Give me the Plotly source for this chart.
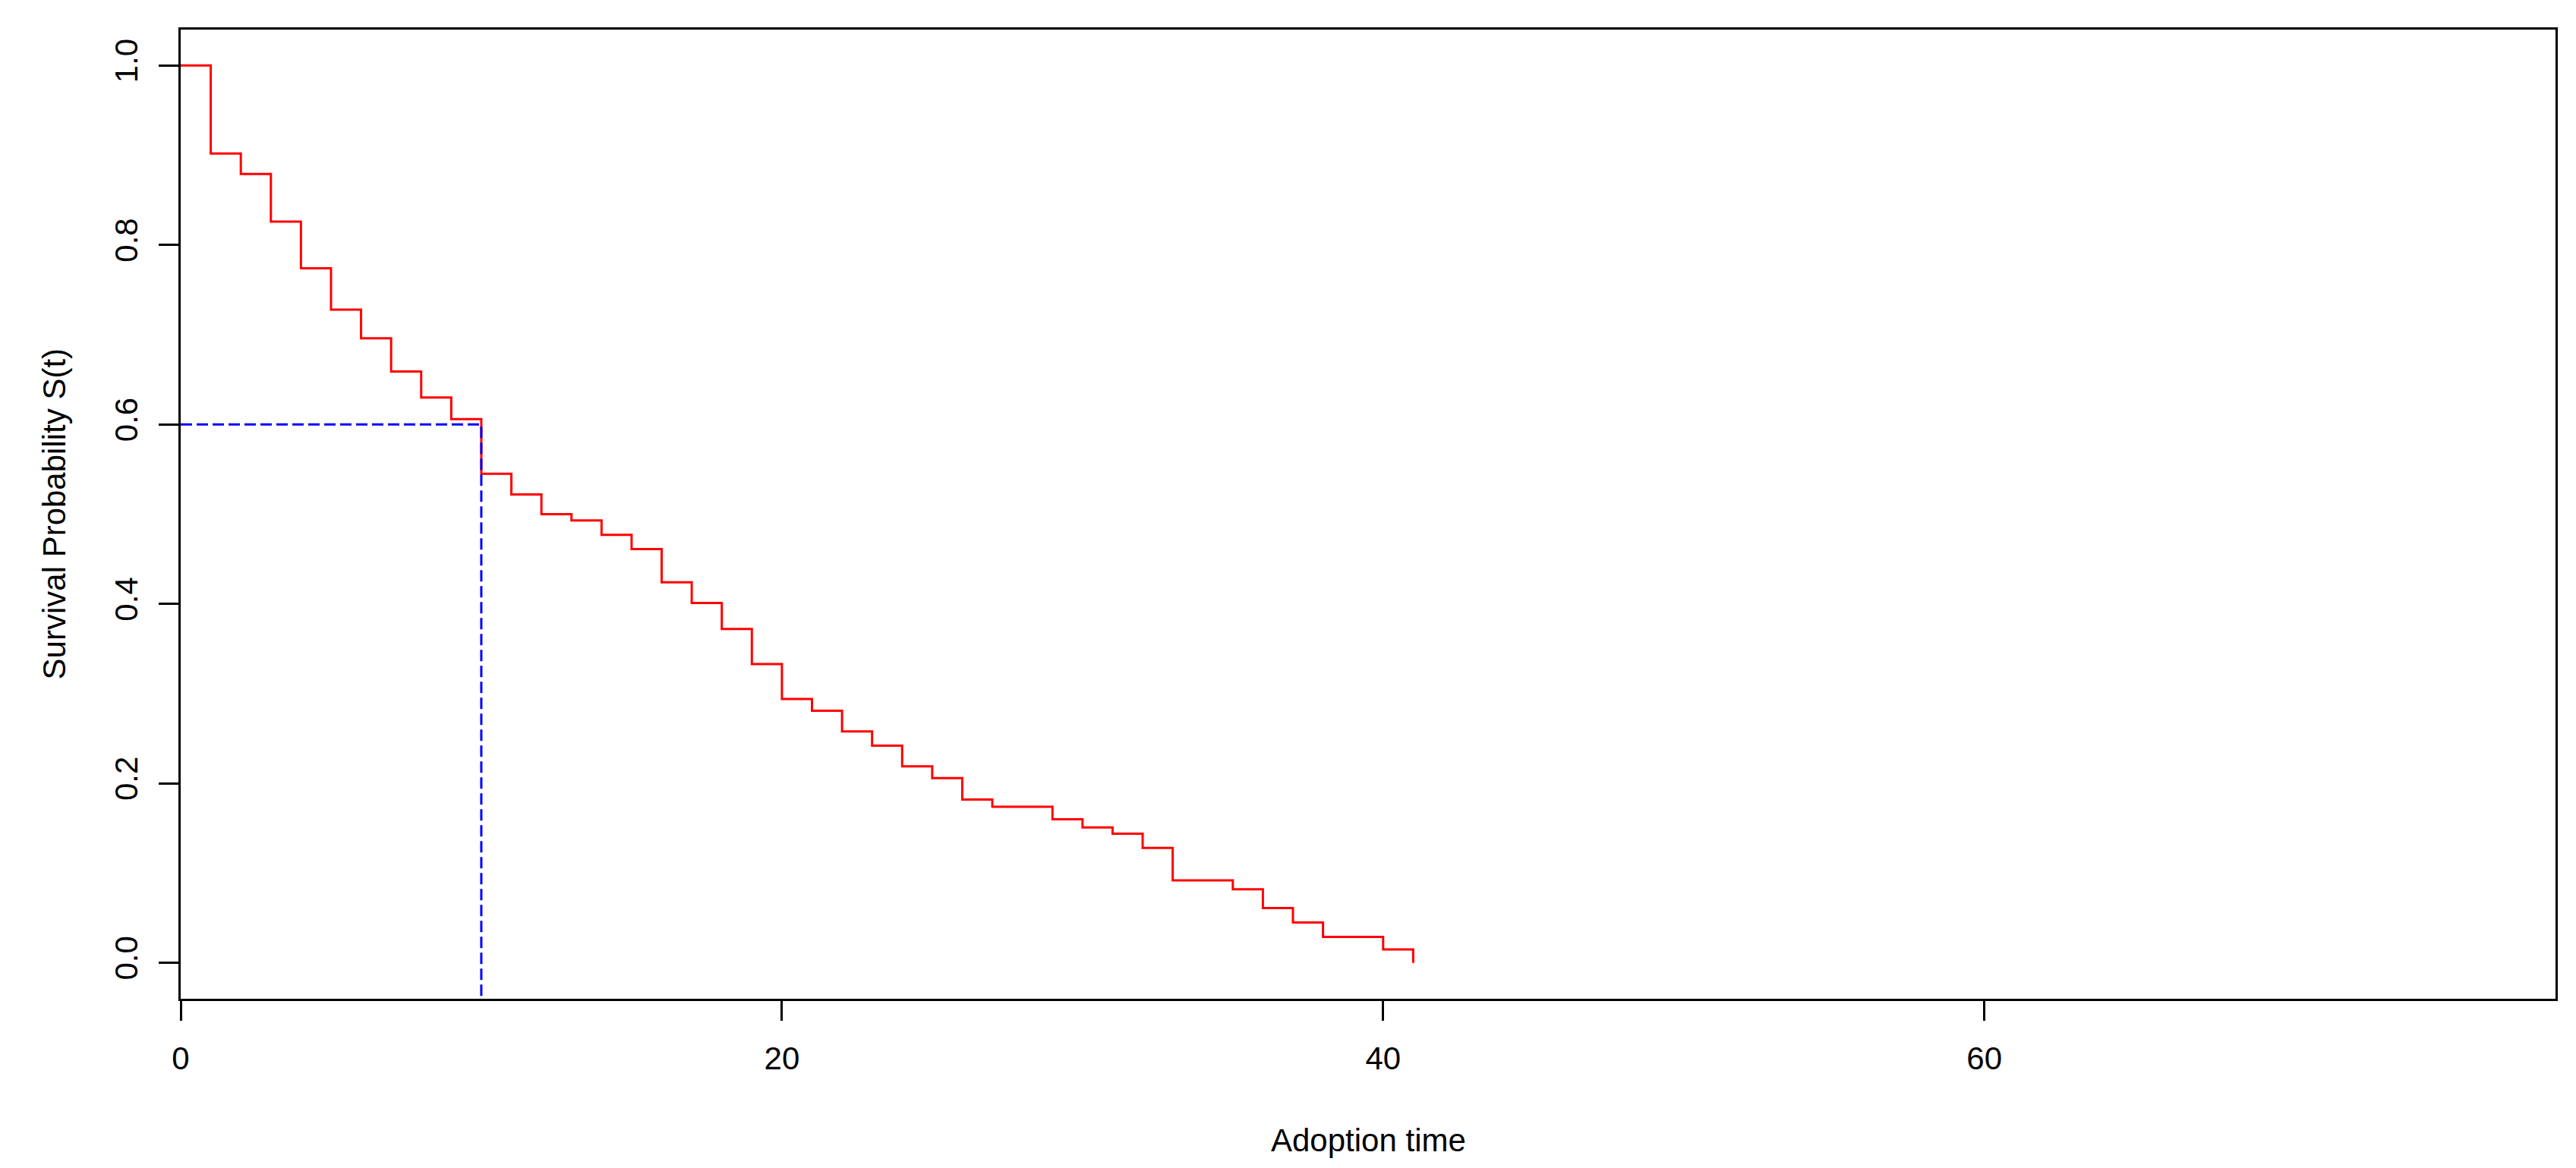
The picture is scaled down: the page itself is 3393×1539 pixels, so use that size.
import plotly.graph_objects as go

# Kaplan-Meier step values
times = list(range(0, 42))
surv = [
    1.000, 0.902, 0.879, 0.826, 0.774, 0.728, 0.696, 0.659, 0.630, 0.606,
    0.545, 0.522, 0.500, 0.493, 0.477, 0.461, 0.424, 0.401, 0.372, 0.333,
    0.294, 0.281, 0.258, 0.242, 0.219, 0.206, 0.182, 0.174, 0.174, 0.160,
    0.151, 0.144, 0.128, 0.092, 0.092, 0.082, 0.061, 0.045, 0.029, 0.029,
    0.015, 0.000,
]

# reference line (time at which S(t) drops to 0.6)
median_time = 10
median_prob = 0.6

x_ticks = [0, 20, 40, 60]
y_ticks = [0.0, 0.2, 0.4, 0.6, 0.8, 1.0]
x_range = [0, 79]
y_range = [-0.04, 1.04]

FONT = "Liberation Sans, Arial, sans-serif"


def render_fig():
    fig = go.Figure()
    fig.add_trace(
        go.Scatter(
            x=times,
            y=surv,
            mode="lines",
            line=dict(color="#ff0000", width=3, shape="hv"),
            showlegend=False,
        )
    )
    fig.add_trace(
        go.Scatter(
            x=[x_range[0], median_time, median_time],
            y=[median_prob, median_prob, y_range[0]],
            mode="lines",
            line=dict(color="#0000ff", width=3, dash="15px,6px"),
            showlegend=False,
        )
    )

    axis_common = dict(
        showgrid=False,
        zeroline=False,
        showline=True,
        linecolor="black",
        linewidth=3,
        mirror=True,
        ticks="outside",
        ticklen=26,
        tickwidth=3,
        tickcolor="black",
        tickfont=dict(family=FONT, size=42, color="black"),
    )
    fig.update_xaxes(
        range=x_range,
        tickvals=x_ticks,
        ticklabelstandoff=14,
        **axis_common,
    )
    fig.update_yaxes(
        range=y_range,
        tickvals=y_ticks,
        tickformat=".1f",
        tickangle=-90,
        ticklabelstandoff=11,
        **axis_common,
    )

    fig.update_layout(
        width=3393,
        height=1539,
        margin=dict(l=238, r=27, t=39, b=223),
        paper_bgcolor="white",
        plot_bgcolor="white",
        font=dict(family=FONT, size=42, color="black"),
        annotations=[
            dict(
                text="Adoption time",
                xref="paper", yref="paper",
                x=0.5, y=-0.1457,
                xanchor="center", yanchor="middle",
                showarrow=False,
                font=dict(family=FONT, size=42, color="black"),
            ),
            dict(
                text="Survival Probability S(t)",
                xref="paper", yref="paper",
                x=-0.0531, y=0.5,
                xanchor="center", yanchor="middle",
                textangle=-90,
                showarrow=False,
                font=dict(family=FONT, size=42, color="black"),
            ),
        ],
    )
    return fig


fig = render_fig()
# drop the browser's default body margin so the figure sits at the page corner
fig.write_html(
    "out.html",
    config={"displayModeBar": False},
    post_script="document.body.style.margin='0';",
)
